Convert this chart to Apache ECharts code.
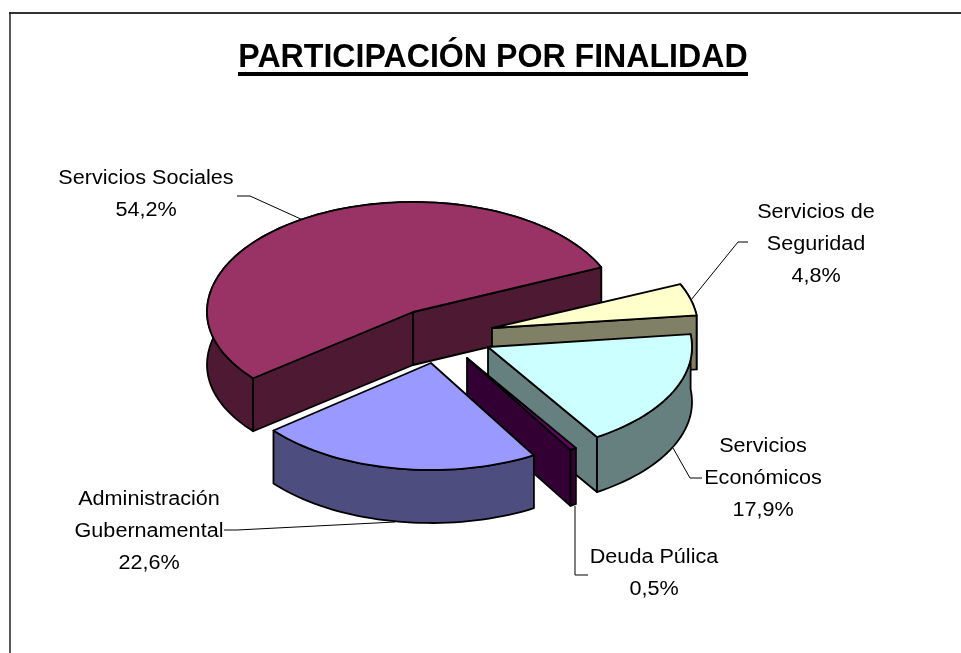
<!DOCTYPE html>
<html><head><meta charset="utf-8">
<style>html,body{margin:0;padding:0;background:#fff}#c{width:961px;height:653px}</style>
<script src="https://cdn.jsdelivr.net/npm/echarts@6/dist/echarts.min.js"></script>
</head><body><div id="c"></div>
<script>
// Data, clockwise from the start of "Servicios Sociales"
const categories = ['Servicios Sociales','Servicios de Seguridad','Servicios Económicos','Deuda Púlica','Administración Gubernamental'];
const values = [54.2, 4.8, 17.9, 0.5, 22.6];
const valueLabels = ['54,2%','4,8%','17,9%','0,5%','22,6%'];
const titleText = 'PARTICIPACIÓN POR FINALIDAD';

// Styling / layout
const topColors  = ['#993366','#FFFFCC','#CCFFFF','#660066','#9999FF'];
const wallColors = ['#4D1933','#808066','#668080','#330033','#4D4D80'];
const startAngle = 140.9;
const sliceLayout = [
  {cx:413,cy:312,rx:206,ryB:110,ryF:105,d:53},
  {cx:492,cy:328,rx:206,ryB:108,ryF:108,d:54},
  {cx:488,cy:347,rx:204,ryB:110,ryF:106.5,d:55},
  {cx:467,cy:358,rx:204,ryB:110,ryF:106.5,d:56},
  {cx:431,cy:363,rx:203,ryB:107,ryF:107,d:53}
];
const labelLayout = [
  {x:146,y:178,lines:['Servicios Sociales']},
  {x:816,y:212,lines:['Servicios de','Seguridad']},
  {x:763,y:446,lines:['Servicios','Económicos']},
  {x:654,y:557,lines:['Deuda Púlica']},
  {x:149,y:499,lines:['Administración','Gubernamental']}
];
const leaders = [
  [[237,196],[250,196],[303,220]],
  [[748,242],[738,242],[691,300]],
  [[702,478],[690,478],[673,448]],
  [[588,575],[575,575],[575,506]],
  [[224,530],[237,530],[395,522]]
];

const total = values.reduce((a,b)=>a+b,0);
function renderSlice(params, api){
  const i = params.dataIndex;
  let before = 0;
  for(let k=0;k<i;k++) before += values[k];
  const a0 = startAngle + before/total*360;
  const a1 = a0 + api.value(0)/total*360;
  const L = sliceLayout[i];
  const rim = a => {
    const t = a*Math.PI/180, c = Math.cos(t), s = Math.sin(t);
    return [L.cx + L.rx*c, L.cy + (s<0?L.ryB:L.ryF)*s];
  };
  const arc = [];
  const n = Math.max(4, Math.ceil((a1-a0)/2));
  for(let k=0;k<=n;k++) arc.push(rim(a0+(a1-a0)*k/n));
  const down = p => [p[0], p[1]+L.d];
  const apex = [L.cx,L.cy];
  const edge = {stroke:'#000',lineWidth:1.8,lineJoin:'round'};
  const wall = Object.assign({fill:wallColors[i]},edge);
  const children = [];
  children.push({type:'polygon',shape:{points:arc.concat(arc.slice().reverse().map(down))},style:wall});
  const cos = a => Math.cos(a*Math.PI/180);
  if(cos(a0)<0) children.push({type:'polygon',shape:{points:[apex,arc[0],down(arc[0]),down(apex)]},style:wall});
  if(cos(a1)>0) children.push({type:'polygon',shape:{points:[apex,arc[n],down(arc[n]),down(apex)]},style:wall});
  children.push({type:'polygon',shape:{points:[apex].concat(arc)},style:Object.assign({fill:topColors[i]},edge)});
  return {type:'group',children};
}

const family = '"Liberation Sans",Arial,sans-serif';
const font = {fontFamily:family,fontSize:20,fill:'#000',align:'center',verticalAlign:'middle'};
const graphic = [
  {type:'line',shape:{x1:9,y1:13,x2:961,y2:13},style:{stroke:'#333',lineWidth:2}},
  {type:'line',shape:{x1:10,y1:12,x2:10,y2:653},style:{stroke:'#222',lineWidth:1.5}},
  {type:'text',x:493,y:58,scaleX:0.945,style:{text:titleText,fontFamily:family,fontWeight:'bold',fontSize:34,fill:'#000',align:'center',verticalAlign:'middle'}},
  {type:'rect',shape:{x:238,y:72,width:510,height:4},style:{fill:'#000'}}
];
categories.forEach((c,i)=>{
  const L = labelLayout[i];
  L.lines.concat([valueLabels[i]]).forEach((t,j)=>{
    graphic.push({type:'text',x:L.x,y:L.y+j*32,scaleX:1.08,style:Object.assign({text:t},font)});
  });
});
leaders.forEach(p=>graphic.push({type:'polyline',shape:{points:p},style:{stroke:'#000',lineWidth:1,fill:null}}));

const chart = echarts.init(document.getElementById('c'),null,{renderer:'canvas'});
chart.setOption({
  animation:false,
  backgroundColor:'#fff',
  graphic,
  series:[{type:'custom',coordinateSystem:'none',renderItem:renderSlice,data:values.map(v=>[v]),z:1}]
});
</script></body></html>
